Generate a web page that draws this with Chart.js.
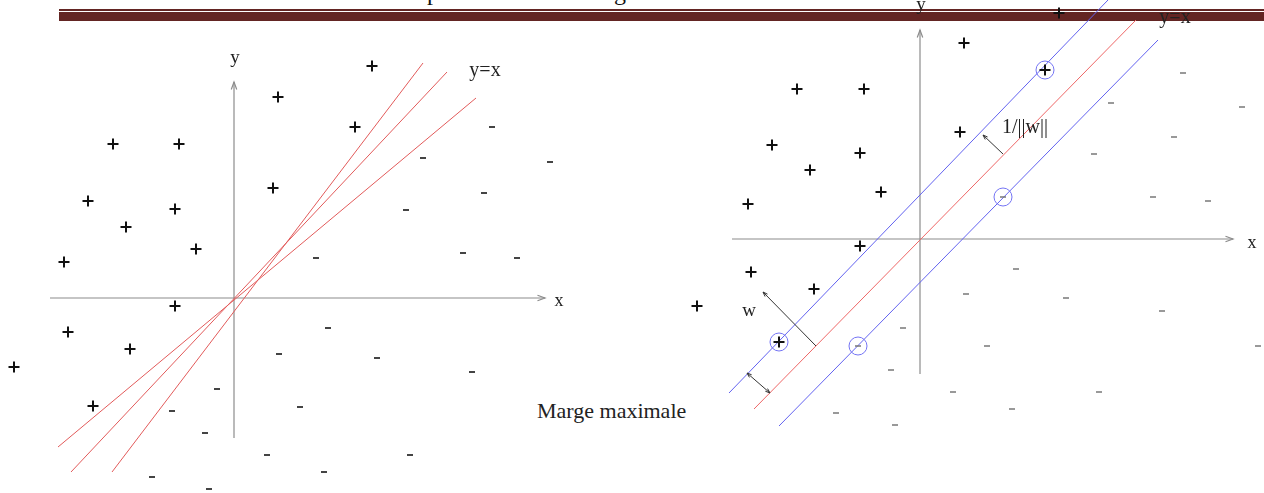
<!DOCTYPE html>
<html>
<head>
<meta charset="utf-8">
<script src="https://cdn.jsdelivr.net/npm/chart.js@4.4.0/dist/chart.umd.min.js"></script>
<style>
html, body { margin: 0; padding: 0; background: #fff; }
body { width: 1264px; height: 493px; position: relative; overflow: hidden; font-family: 'Liberation Serif', serif; }
.band-thin { position: absolute; left: 59px; right: 0; top: 9px; height: 1.5px; background: #632523; }
.band { position: absolute; left: 59px; right: 0; top: 12px; height: 9px; background: #632523; }
.top-text { position: absolute; top: -20px; font-size: 24px; line-height: 24px; color: #111; }
.caption { position: absolute; left: 537px; top: 400px; font-size: 22px; line-height: 22px; color: #222; white-space: nowrap; }
.chart-box { position: absolute; top: 0; height: 493px; z-index: 2; }
#leftBox { left: 0; width: 600px; }
#rightBox { left: 690px; width: 574px; }
</style>
</head>
<body>
<div class="band-thin"></div>
<div class="band"></div>
<div class="top-text" style="left:427px">p</div>
<div class="top-text" style="left:614px">g</div>
<div class="caption">Marge maximale</div>
<div class="chart-box" id="leftBox"><canvas id="leftChart"></canvas></div>
<div class="chart-box" id="rightBox"><canvas id="rightChart"></canvas></div>

<script>
// left figure: several separating lines
const leftPlus = [[4.4, 20.1], [13.8, 23.2], [-12.1, 15.4], [-5.5, 15.4], [12.1, 17.1], [3.9, 11.0],
    [-14.6, 9.7], [-5.9, 8.9], [-10.8, 7.1], [-3.8, 4.9], [-17.0, 3.6], [-5.9, -0.8],
    [-16.6, -3.4], [-10.4, -5.1], [-22.0, -6.9], [-14.1, -10.8]];
const leftMinus = [[8.2, 4.0], [18.9, 14.0], [25.8, 17.1], [31.6, 13.6], [25.0, 10.5], [17.2, 8.8],
    [22.9, 4.5], [28.3, 4.0], [9.4, -3.0], [4.5, -5.6], [14.3, -6.0], [23.8, -7.4],
    [6.6, -10.9], [-1.7, -9.1], [-6.2, -11.3], [-2.9, -13.5], [3.3, -15.7], [17.6, -15.7],
    [-8.2, -17.9], [-2.5, -19.1], [9.0, -17.4]];
const leftSeparators = [
    [[-17.6, -14.9], [24.2, 20.0]],
    [[-16.3, -17.4], [21.3, 22.6]],
    [[-12.2, -17.4], [18.9, 23.5]]
];
const leftAxes = [
    [[-18.4, 0], [31.1, 0]],
    [[0, -14.0], [0, 21.6]]
];
const leftLabels = [
    { text: 'x', at: [32.5, -0.3], size: 18 },
    { text: 'y', at: [0.1, 24.0], size: 19 },
    { text: 'y=x', at: [25.1, 22.7], size: 20 }
];

// right figure: maximum margin
const rightPlus = [[4.4, 19.6], [13.9, 22.6], [-12.3, 15.0], [-5.6, 15.0], [4.0, 10.7], [-14.8, 9.4],
    [-6.0, 8.6], [-11.0, 6.9], [-3.9, 4.7], [-17.2, 3.5], [-6.0, -0.7], [-16.9, -3.3],
    [-10.6, -5.0], [-22.3, -6.7], [12.5, 16.9], [-14.1, -10.3]];
const rightMinus = [[26.3, 16.6], [19.1, 13.6], [32.2, 13.2], [25.4, 10.2], [17.4, 8.5], [23.3, 4.2],
    [28.8, 3.8], [8.3, 4.2], [9.6, -3.0], [4.6, -5.5], [14.6, -5.9], [24.2, -7.2],
    [6.7, -10.7], [33.8, -10.7], [-1.7, -8.9], [-2.9, -13.1], [3.3, -15.3], [17.9, -15.3],
    [-8.4, -17.4], [-2.5, -18.6], [9.2, -17.0], [-6.2, -10.7]];
const supportVectors = [[12.5, 16.9], [-14.1, -10.3], [8.3, 4.2], [-6.2, -10.7]];
const hyperplane = [[-16.6, -17.0], [21.6, 21.9]];
const marginLines = [
    [[-19.1, -15.4], [18.8, 23.9]],
    [[-14.1, -18.7], [23.8, 19.9]]
];
const rightAxes = [
    [[-18.8, 0], [31.3, 0]],
    [[0, -13.5], [0, 20.9]]
];
const rightArrows = [
    { from: [8.3, 8.5], to: [6.3, 10.4], both: false },
    { from: [-10.4, -10.7], to: [-15.7, -5.3], both: false },
    { from: [-15.0, -15.4], to: [-17.3, -13.4], both: true }
];
const rightLabels = [
    { text: 'x', at: [33.2, -0.4], size: 18 },
    { text: 'y', at: [0.1, 23.4], size: 19 },
    { text: 'y=x', at: [25.5, 22.1], size: 20 },
    { text: '1/||w||', at: [10.5, 11.1], size: 20 },
    { text: 'w', at: [-17.1, -7.2], size: 19 }
];

function toPts(arr) {
    return arr.map(p => ({ x: p[0], y: p[1] }));
}

function lineSet(seg, color) {
    return {
        data: toPts(seg), showLine: true, borderColor: color, borderWidth: 1,
        pointRadius: 0, fill: false, order: 5
    };
}

function drawHead(ctx, x1, y1, x2, y2, len) {
    const a = Math.atan2(y2 - y1, x2 - x1);
    ctx.beginPath();
    ctx.moveTo(x2 - len * Math.cos(a - 0.35), y2 - len * Math.sin(a - 0.35));
    ctx.lineTo(x2, y2);
    ctx.lineTo(x2 - len * Math.cos(a + 0.35), y2 - len * Math.sin(a + 0.35));
    ctx.stroke();
}

const marksPlugin = {
    id: 'marks',
    beforeDatasetsDraw(chart, args, opts) {
        const ctx = chart.ctx, xs = chart.scales.x, ys = chart.scales.y;
        ctx.save();
        (opts.axes || []).forEach(seg => {
            const x1 = xs.getPixelForValue(seg[0][0]), y1 = ys.getPixelForValue(seg[0][1]);
            const x2 = xs.getPixelForValue(seg[1][0]), y2 = ys.getPixelForValue(seg[1][1]);
            ctx.strokeStyle = '#8c8c8c';
            ctx.lineWidth = 1.2;
            ctx.beginPath();
            ctx.moveTo(x1, y1);
            ctx.lineTo(x2, y2);
            ctx.stroke();
            drawHead(ctx, x1, y1, x2, y2, 8);
        });
        ctx.restore();
    },
    afterDatasetsDraw(chart, args, opts) {
        const ctx = chart.ctx, xs = chart.scales.x, ys = chart.scales.y;
        ctx.save();
        (opts.arrows || []).forEach(a => {
            const x1 = xs.getPixelForValue(a.from[0]), y1 = ys.getPixelForValue(a.from[1]);
            const x2 = xs.getPixelForValue(a.to[0]), y2 = ys.getPixelForValue(a.to[1]);
            ctx.strokeStyle = '#333';
            ctx.lineWidth = 1;
            ctx.beginPath();
            ctx.moveTo(x1, y1);
            ctx.lineTo(x2, y2);
            ctx.stroke();
            drawHead(ctx, x1, y1, x2, y2, 5);
            if (a.both) drawHead(ctx, x2, y2, x1, y1, 5);
        });
        (opts.labels || []).forEach(l => {
            ctx.font = l.size + 'px "Liberation Serif", serif';
            ctx.fillStyle = '#222';
            ctx.textAlign = 'center';
            ctx.textBaseline = 'middle';
            ctx.fillText(l.text, xs.getPixelForValue(l.at[0]), ys.getPixelForValue(l.at[1]));
        });
        ctx.restore();
    }
};

function makeChart(id, datasets, marks, xr, yr) {
    return new Chart(document.getElementById(id), {
        type: 'scatter',
        data: { datasets: datasets },
        options: {
            responsive: true,
            maintainAspectRatio: false,
            animation: false,
            layout: { padding: 0, autoPadding: false },
            plugins: {
                legend: { display: false },
                tooltip: { enabled: false },
                marks: marks
            },
            scales: {
                x: { type: 'linear', min: xr[0], max: xr[1], display: false },
                y: { type: 'linear', min: yr[0], max: yr[1], display: false }
            }
        },
        plugins: [marksPlugin]
    });
}

// 10 px per unit, origin at the axis crossing
const leftSets = [
    { data: toPts(leftPlus), pointStyle: 'cross', pointRadius: 5.5, borderColor: '#111', borderWidth: 2, order: 1 },
    { data: toPts(leftMinus), pointStyle: 'line', pointRadius: 3, borderColor: '#444', borderWidth: 2, order: 1 }
];
leftSeparators.forEach(seg => leftSets.push(lineSet(seg, '#e25a5a')));
makeChart('leftChart', leftSets, { axes: leftAxes, labels: leftLabels }, [-23.4, 36.6], [-19.5, 29.8]);

const rightSets = [
    { data: toPts(rightPlus), pointStyle: 'cross', pointRadius: 5.5, borderColor: '#111', borderWidth: 2, order: 1 },
    { data: toPts(rightMinus), pointStyle: 'line', pointRadius: 3, borderColor: '#777', borderWidth: 1.5, order: 1 },
    { data: toPts(supportVectors), pointStyle: 'circle', pointRadius: 9, borderColor: '#7474f4', borderWidth: 1, backgroundColor: 'rgba(0,0,0,0)', order: 0 },
    lineSet(hyperplane, '#ee6666')
];
marginLines.forEach(seg => rightSets.push(lineSet(seg, '#6262f0')));
makeChart('rightChart', rightSets, { axes: rightAxes, arrows: rightArrows, labels: rightLabels }, [-23, 34.4], [-25.4, 23.9]);
</script>
</body>
</html>
